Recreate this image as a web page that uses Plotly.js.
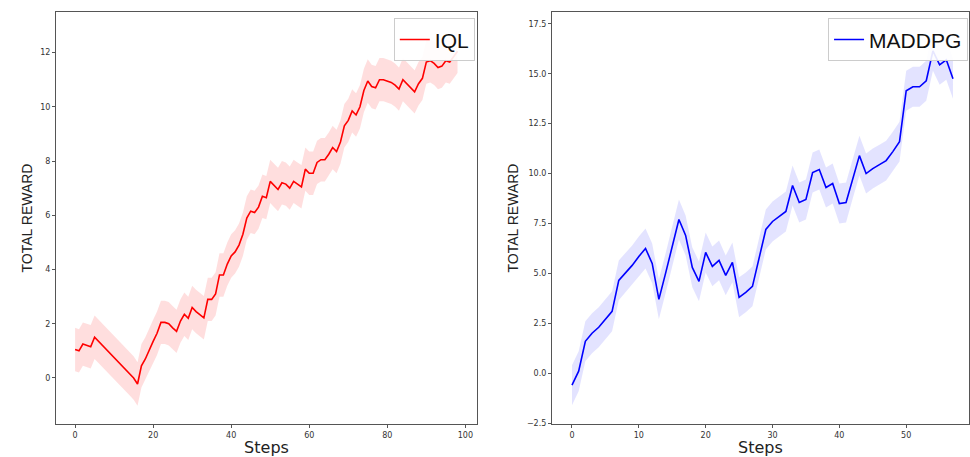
<!DOCTYPE html>
<html>
<head>
<script src="https://cdn.plot.ly/plotly-3.0.1.min.js"></script>
<style>body{margin:0;background:#fff}#plot{width:970px;height:457px}</style>
</head>
<body>
<div id="plot"></div>
<script>
// IQL mean reward per step (0..98)
const iqlSteps = Array.from({length: 99}, (_, i) => i);
const iqlMean = [1.05,1.0,1.25,1.2,1.15,1.5,1.35,1.2,1.05,0.9,0.75,0.6,0.45,0.3,0.15,0.0,-0.22,
  0.45,0.7,1.05,1.35,1.65,2.05,2.05,2.0,1.85,1.72,2.1,2.35,2.2,2.6,2.45,2.32,2.22,2.9,2.9,3.1,3.8,3.8,4.2,
  4.5,4.65,4.9,5.3,5.9,6.15,6.1,6.3,6.7,6.65,7.25,7.1,6.95,7.2,7.15,7.0,7.25,7.15,7.05,7.7,
  7.55,7.55,7.95,8.05,8.05,8.25,8.5,8.35,8.7,9.3,9.5,9.85,9.7,10.0,10.6,10.95,10.75,10.7,11.0,11.0,
  10.95,10.9,10.8,10.65,11.0,10.85,10.7,10.55,10.85,11.05,11.65,11.7,11.6,11.45,11.5,11.7,11.65,11.85,12.05];
const iqlSpread = 0.8;

// MADDPG mean reward per step (0..57)
const madSteps = Array.from({length: 58}, (_, i) => i);
const madMean = [-0.6,0.1,1.6,2.0,2.3,2.7,3.1,4.65,5.0,5.4,5.85,6.25,5.5,3.7,5.0,6.3,7.7,6.9,5.3,4.6,
  6.05,5.35,5.65,4.9,5.55,3.8,4.05,4.35,5.8,7.2,7.6,7.85,8.1,9.4,8.55,8.7,10.05,10.2,9.3,9.5,
  8.5,8.55,9.75,10.9,10.0,10.25,10.45,10.65,11.1,11.6,14.15,14.35,14.35,14.65,16.15,15.45,15.7,14.75];
const madSpread = 1.0;

function band(xs, ys, s, color, xa, ya) {
  return {
    x: xs.concat(xs.slice().reverse()),
    y: ys.map(v => v + s).concat(ys.map(v => v - s).reverse()),
    fill: "toself", fillcolor: color, line: {width: 0}, mode: "lines",
    hoverinfo: "skip", showlegend: false, xaxis: xa, yaxis: ya
  };
}

const data = [
  band(iqlSteps, iqlMean, iqlSpread, "rgba(255,0,0,0.13)", "x", "y"),
  {x: iqlSteps, y: iqlMean, mode: "lines", name: "IQL", line: {color: "#ff0000", width: 1.6}, xaxis: "x", yaxis: "y", legend: "legend"},
  band(madSteps, madMean, madSpread, "rgba(0,0,255,0.11)", "x2", "y2"),
  {x: madSteps, y: madMean, mode: "lines", name: "MADDPG", line: {color: "#0000ff", width: 1.6}, xaxis: "x2", yaxis: "y2", legend: "legend2"}
];

const axBase = {
  showgrid: false, zeroline: false, showline: true, mirror: true,
  linecolor: "#555", linewidth: 1, ticks: "outside", ticklen: 3, tickcolor: "#555",
  tickfont: {size: 8, color: "#333", family: "DejaVu Sans"}
};
const xTitle = {text: "Steps", font: {size: 16, color: "#222", family: "DejaVu Sans"}, standoff: 9};
const yTitle = {text: "TOTAL REWARD", font: {size: 14, color: "#222", family: "Liberation Sans"}, standoff: 4};
const legFont = {size: 21, color: "#111", family: "Liberation Sans"};

const layout = {
  margin: {l: 0, r: 0, t: 0, b: 0},
  paper_bgcolor: "#fff", plot_bgcolor: "#fff",
  xaxis: Object.assign({}, axBase, {domain: [0.0577, 0.4918], range: [-4.9, 103], tickvals: [0,20,40,60,80,100], anchor: "y", title: xTitle}),
  yaxis: Object.assign({}, axBase, {domain: [0.072, 0.974], range: [-1.7, 13.5], tickvals: [0,2,4,6,8,10,12], anchor: "x", title: yTitle}),
  xaxis2: Object.assign({}, axBase, {domain: [0.569, 0.999], range: [-3, 59.4], tickvals: [0,10,20,30,40,50], anchor: "y2", title: xTitle}),
  yaxis2: Object.assign({}, axBase, {domain: [0.072, 0.974], range: [-2.55, 18.1], tickvals: [-2.5,0,2.5,5,7.5,10,12.5,15,17.5], ticktext: ["\u22122.5","0.0","2.5","5.0","7.5","10.0","12.5","15.0","17.5"], anchor: "x2", title: yTitle}),
  legend: {x: 0.4895, y: 0.96, xanchor: "right", yanchor: "top", font: legFont, bordercolor: "#ccc", borderwidth: 1, bgcolor: "rgba(255,255,255,0.9)", itemwidth: 30},
  legend2: {x: 0.998, y: 0.96, xanchor: "right", yanchor: "top", font: legFont, bordercolor: "#ccc", borderwidth: 1, bgcolor: "rgba(255,255,255,0.9)", itemwidth: 30}
};

Plotly.newPlot("plot", data, layout, {displayModeBar: false, staticPlot: true});
</script>
</body>
</html>
